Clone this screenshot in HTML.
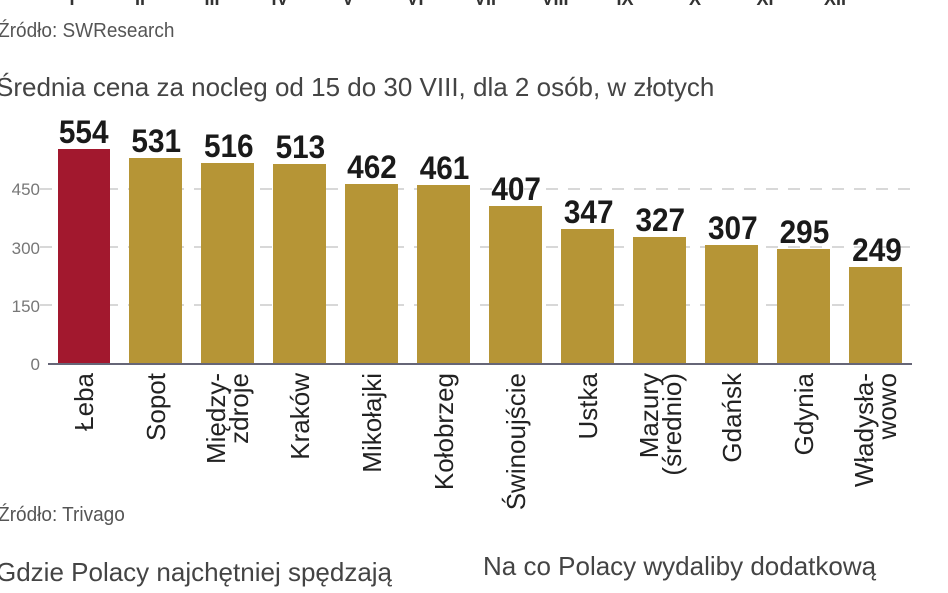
<!DOCTYPE html>
<html><head><meta charset="utf-8"><style>
html,body{margin:0;padding:0;background:#fff;}
svg{display:block;}
</style></head><body>
<svg width="948" height="593" viewBox="0 0 948 593" xmlns="http://www.w3.org/2000/svg" font-family="Liberation Sans, DejaVu Sans, sans-serif">
<g fill="#333" font-size="18" font-weight="bold" text-anchor="middle">
<text x="72" y="5">I</text><text x="140" y="5">II</text><text x="212" y="5">III</text><text x="280" y="5">IV</text><text x="348" y="5">V</text><text x="415" y="5">VI</text><text x="485" y="5">VII</text><text x="555" y="5">VIII</text><text x="625" y="5">IX</text><text x="695" y="5">X</text><text x="765" y="5">XI</text><text x="835" y="5">XII</text>
</g>
<text x="-2" y="37" font-size="20" fill="#555" transform="scale(0.95,1)">Źródło: SWResearch</text>
<text x="-4" y="96" font-size="26" fill="#444">Średnia cena za nocleg od 15 do 30 VIII, dla 2 osób, w złotych</text>
<g stroke="#ccc" stroke-width="1.5" stroke-dasharray="12,10">
<line x1="40" y1="189" x2="912" y2="189"/><line x1="40" y1="247" x2="912" y2="247"/><line x1="40" y1="305" x2="912" y2="305"/>
</g>
<g fill="#777" font-size="17" text-anchor="end">
<text x="40" y="195">450</text><text x="40" y="254">300</text><text x="40" y="312">150</text><text x="40" y="370">0</text>
</g>
<g fill="#b69536">
<rect x="58" y="149" width="52" height="215" fill="#a2182e"/>
<rect x="129" y="158" width="53" height="206"/>
<rect x="201" y="163" width="53" height="201"/>
<rect x="273" y="164" width="53" height="200"/>
<rect x="345" y="184" width="53" height="180"/>
<rect x="417" y="185" width="53" height="179"/>
<rect x="489" y="206" width="53" height="158"/>
<rect x="561" y="229" width="53" height="135"/>
<rect x="633" y="237" width="53" height="127"/>
<rect x="705" y="245" width="53" height="119"/>
<rect x="777" y="249" width="53" height="115"/>
<rect x="849" y="267" width="53" height="97"/>
</g>
<line x1="48" y1="364" x2="912" y2="364" stroke="#667" stroke-width="2"/>
<g fill="#1a1a1a" font-size="32" font-weight="bold" text-anchor="middle">
<g transform="scale(0.93,1)">
<text x="90" y="143">554</text><text x="168" y="152">531</text><text x="246" y="157">516</text><text x="323" y="158">513</text><text x="400" y="178">462</text><text x="478" y="179">461</text><text x="555" y="200">407</text><text x="633" y="223">347</text><text x="710" y="231">327</text><text x="788" y="239">307</text><text x="865" y="243">295</text><text x="943" y="261">249</text>
</g></g>
<g fill="#222" font-size="26" text-anchor="end">
<text transform="translate(93,373) rotate(-90)">Łeba</text>
<text transform="translate(165,373) rotate(-90)">Sopot</text>
<text transform="translate(225,373) rotate(-90)">Między-</text>
<text transform="translate(248,373) rotate(-90)">zdroje</text>
<text transform="translate(309,373) rotate(-90)">Kraków</text>
<text transform="translate(381,373) rotate(-90)">Mikołajki</text>
<text transform="translate(453,373) rotate(-90)">Kołobrzeg</text>
<text transform="translate(525,373) rotate(-90)">Świnoujście</text>
<text transform="translate(597,373) rotate(-90)">Ustka</text>
<text transform="translate(658,373) rotate(-90)">Mazury</text>
<text transform="translate(681,373) rotate(-90)">(średnio)</text>
<text transform="translate(741,373) rotate(-90)">Gdańsk</text>
<text transform="translate(813,373) rotate(-90)">Gdynia</text>
<text transform="translate(873,373) rotate(-90)">Władysła-</text>
<text transform="translate(896,373) rotate(-90)">wowo</text>
</g>
<text x="-2" y="521" font-size="20" fill="#555" transform="scale(0.95,1)">Źródło: Trivago</text>
<text x="-4" y="581" font-size="26" fill="#444">Gdzie Polacy najchętniej spędzają</text>
<text x="483" y="575" font-size="26" fill="#444">Na co Polacy wydaliby dodatkową</text>
</svg>
</body></html>
